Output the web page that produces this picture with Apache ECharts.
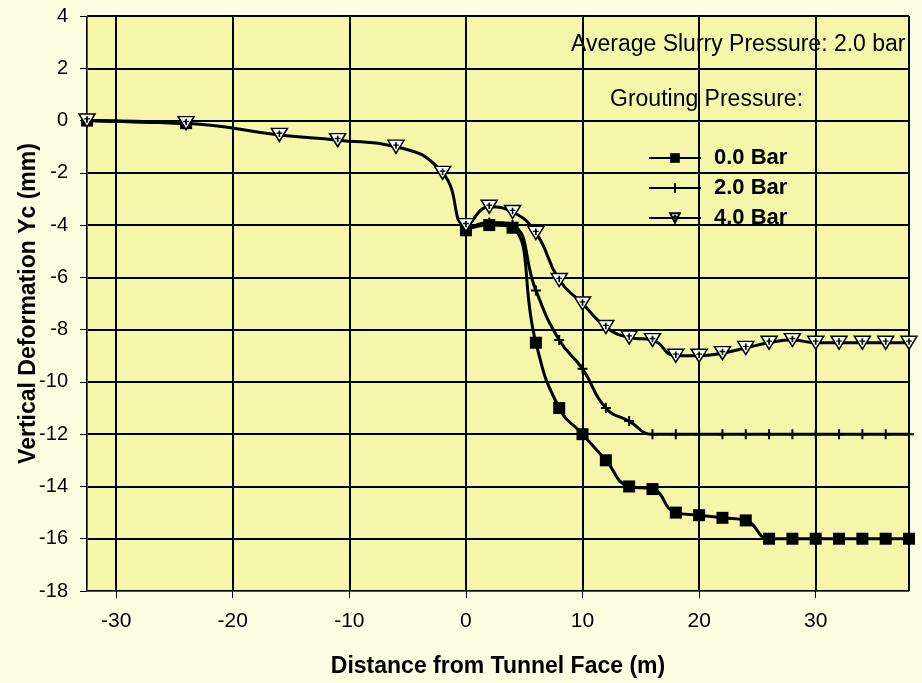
<!DOCTYPE html>
<html>
<head>
<meta charset="utf-8">
<script src="https://cdn.jsdelivr.net/npm/echarts@6/dist/echarts.min.js"></script>
<style>
  html, body { margin: 0; padding: 0; background: #fdfde1; }
  #chart { width: 922px; height: 683px; }
</style>
</head>
<body>
<div id="chart"></div>
<script>
// Distancias (m) antes y después del frente del túnel
const xAhead = [-32.5, -24, -16, -11, -6, -2];
const xBehind = [0, 2, 4, 6, 8, 10, 12, 14, 16, 18, 20, 22, 24, 26, 28, 30, 32, 34, 36, 38];

// Deformación vertical (mm) por presión de inyección
const bar0Ahead = [0, -0.1];
const bar0Behind = [-4.2, -4.0, -4.1, -8.5, -11.0, -12.0, -13.0, -14.0, -14.1, -15.0, -15.1, -15.2, -15.3, -16, -16, -16, -16, -16, -16, -16];
const bar2Ahead = [0, -0.1];
const bar2Behind = [-4.2, -3.9, -4.0, -6.5, -8.4, -9.5, -11.0, -11.5, -12, -12, -12, -12, -12, -12, -12, -12, -12, -12, -12, -12];
const bar4Ahead = [0, -0.1, -0.55, -0.75, -1.0, -2.0];
const bar4Behind = [-4.0, -3.3, -3.5, -4.3, -6.1, -7.0, -7.9, -8.3, -8.4, -9.0, -9.0, -8.9, -8.7, -8.5, -8.4, -8.5, -8.5, -8.5, -8.5, -8.5];

const seriesNames = ['0.0 Bar', '2.0 Bar', '4.0 Bar'];
const yTicks = { min: -18, max: 4, step: 2 };

const FONT = 'Liberation Sans, Arial, sans-serif';

// une tramos; si gap=true deja un hueco entre ellos
function pairs(ahead, aheadVals, behind, behindVals, gap) {
    const out = aheadVals.map((v, i) => [ahead[i], v]);
    if (gap) out.push([-20, '-']);
    return out.concat(behindVals.map((v, i) => [behind[i], v]));
}

const chart = echarts.init(document.getElementById('chart'));

const lineBase = {
    type: 'line',
    smooth: 0.5,
    showSymbol: true,
    showAllSymbol: true,
    connectNulls: false,
    lineStyle: { color: '#000', width: 3 },
    emphasis: { disabled: true }
};

chart.setOption({
    backgroundColor: '#fdfde1',
    animation: false,
    textStyle: { fontFamily: FONT },
    grid: {
        left: 87, right: 13, top: 16, bottom: 92,
        show: true,
        backgroundColor: '#f6f6ab',
        borderColor: '#555',
        borderWidth: 1
    },
    legend: {
        orient: 'vertical',
        left: 643,
        top: 142,
        itemWidth: 52,
        itemHeight: 12,
        itemGap: 8,
        data: seriesNames,
        textStyle: { fontFamily: FONT, fontSize: 22, fontWeight: 'bold', color: '#000', padding: [0, 0, 0, 8] }
    },
    graphic: [
        { type: 'text', left: 571, top: 33, style: { text: 'Average Slurry Pressure: 2.0 bar', font: '23px ' + FONT, fill: '#000' } },
        { type: 'text', left: 610, top: 88, style: { text: 'Grouting Pressure:', font: '23px ' + FONT, fill: '#000' } }
    ],
    xAxis: {
        type: 'value',
        min: -32.5,
        max: 38,
        splitNumber: 7,
        name: 'Distance from Tunnel Face (m)',
        nameLocation: 'middle',
        nameGap: 64,
        nameTextStyle: { fontFamily: FONT, fontSize: 23, fontWeight: 'bold', color: '#000' },
        axisLine: { show: true, onZero: false, lineStyle: { color: '#555', width: 1 } },
        axisTick: { show: true, length: 7, lineStyle: { color: '#000', width: 1 } },
        axisLabel: { fontSize: 21, color: '#000', margin: 20, showMinLabel: false, showMaxLabel: false },
        splitLine: { show: true, lineStyle: { color: '#000', width: 2 } }
    },
    yAxis: {
        type: 'value',
        min: yTicks.min,
        max: yTicks.max,
        interval: yTicks.step,
        name: 'Vertical Deformation Yc (mm)',
        nameLocation: 'middle',
        nameGap: 47,
        nameMoveOverlap: false,
        nameTextStyle: { fontFamily: FONT, fontSize: 23, fontWeight: 'bold', color: '#000' },
        axisLine: { show: true, onZero: false, lineStyle: { color: '#555', width: 1 } },
        axisTick: { show: true, length: 7, lineStyle: { color: '#000', width: 1 } },
        axisLabel: { fontSize: 20, color: '#000', margin: 19 },
        splitLine: { show: true, lineStyle: { color: '#000', width: 2 } }
    },
    series: [
        Object.assign({}, lineBase, {
            name: seriesNames[0],
            symbol: 'rect',
            symbolSize: 12,
            itemStyle: { color: '#000' },
            data: pairs(xAhead, bar0Ahead, xBehind, bar0Behind, true)
        }),
        Object.assign({}, lineBase, {
            name: seriesNames[1],
            symbol: 'path://M4,0h2v10h-2zM0,4h10v2h-10z',
            symbolSize: 10,
            itemStyle: { color: '#000' },
            data: pairs(xAhead, bar2Ahead, xBehind, bar2Behind, true)
        }),
        Object.assign({}, lineBase, {
            name: seriesNames[2],
            symbol: 'path://M0,0L14,0L7,12ZM7,2L7,8M4.5,4.5L9.5,4.5',
            symbolSize: [16, 13],
            itemStyle: { color: '#fff', borderColor: '#000', borderWidth: 1.5 },
            data: pairs(xAhead, bar4Ahead, xBehind, bar4Behind, false)
        })
    ]
});

window.addEventListener('resize', function() {
    chart.resize();
});
</script>
</body>
</html>
